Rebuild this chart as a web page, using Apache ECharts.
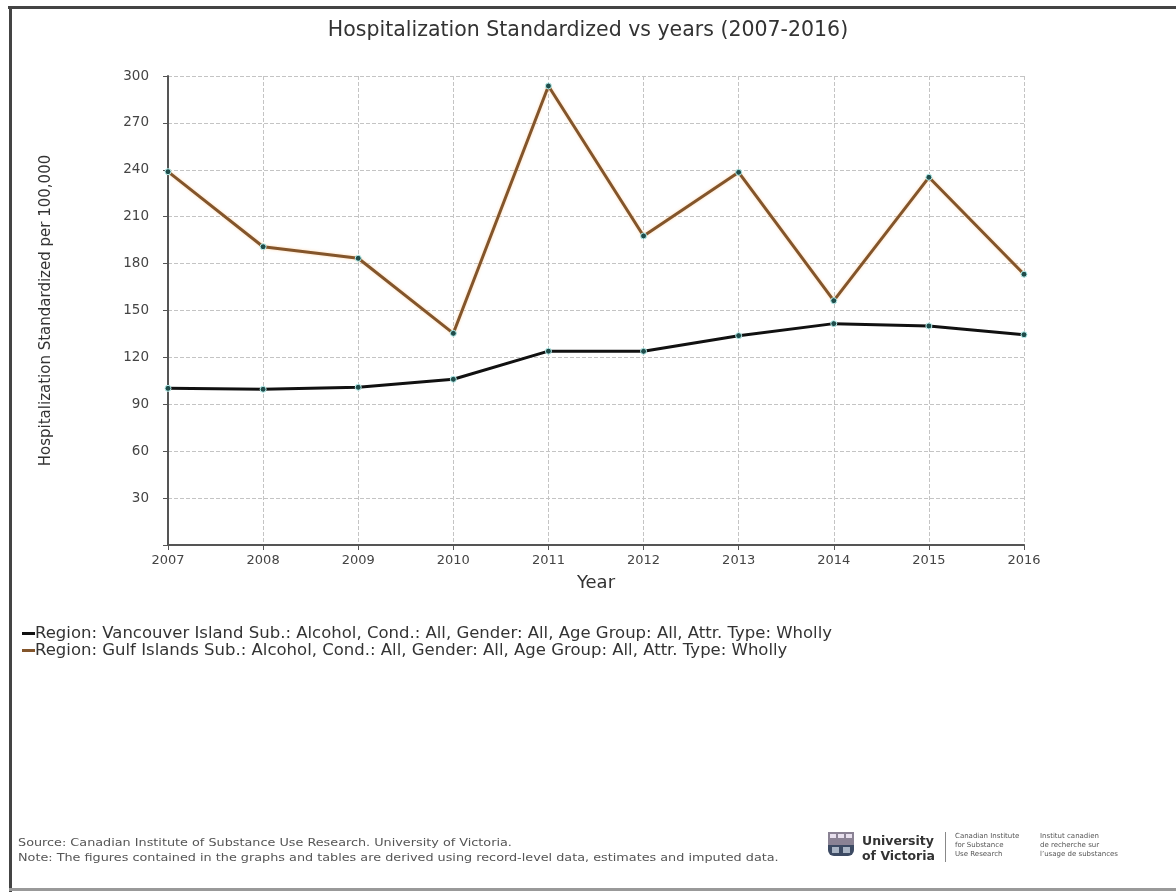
<!DOCTYPE html>
<html>
<head>
<meta charset="utf-8">
<script src="https://cdn.jsdelivr.net/npm/echarts@6/dist/echarts.min.js"></script>
<style>
html,body{margin:0;padding:0;background:#fff;}
#chart{width:1176px;height:892px;}
</style>
</head>
<body>
<div id="chart"></div>
<script>
var years = ['2007','2008','2009','2010','2011','2012','2013','2014','2015','2016'];
var vancouverIsland = [100.2, 99.6, 100.9, 106.0, 124.0, 123.9, 133.9, 141.6, 140.1, 134.5];
var gulfIslands = [238.8, 190.8, 183.4, 135.4, 293.6, 197.7, 238.4, 156.3, 235.2, 173.2];
var seriesNames = [
  'Region: Vancouver Island Sub.: Alcohol, Cond.: All, Gender: All, Age Group: All, Attr. Type: Wholly',
  'Region: Gulf Islands Sub.: Alcohol, Cond.: All, Gender: All, Age Group: All, Attr. Type: Wholly'
];
var seriesColors = ['#111111', '#83552b'];
var titleText = 'Hospitalization Standardized vs years (2007-2016)';
var yAxisName = 'Hospitalization Standardized per 100,000';
var xAxisName = 'Year';
var sourceText = 'Source: Canadian Institute of Substance Use Research. University of Victoria.';
var noteText = 'Note: The figures contained in the graphs and tables are derived using record-level data, estimates and imputed data.';

var FONT = '"DejaVu Sans", Verdana, sans-serif';
var chart = echarts.init(document.getElementById('chart'));

var markerStyle = { color: '#1f4d4b', borderColor: '#b8f0ee', borderWidth: 1 };

function smallText(x, y, txt, size, sx, extra) {
  var st = { text: txt, font: size + 'px ' + FONT, fill: '#555', verticalAlign: 'top', textVerticalAlign: 'top' };
  if (extra) { for (var k in extra) st[k] = extra[k]; }
  return { type: 'text', x: x, y: y, scaleX: sx, scaleY: 1, style: st, silent: true };
}

chart.setOption({
  animation: false,
  backgroundColor: '#fff',
  title: {
    text: titleText,
    left: 'center',
    top: 15,
    textStyle: { fontFamily: FONT, fontSize: 20.5, fontWeight: 'normal', color: '#333' }
  },
  legend: {
    orient: 'vertical',
    left: 17,
    top: 620,
    icon: 'rect',
    itemWidth: 13,
    itemHeight: 3,
    itemGap: 0,
    textStyle: { fontFamily: FONT, fontSize: 16.5, color: '#333', padding: [0,0,0,-5] },
    data: [
      { name: seriesNames[0], itemStyle: { color: seriesColors[0], borderWidth: 0 } },
      { name: seriesNames[1], itemStyle: { color: seriesColors[1], borderWidth: 0 } }
    ]
  },
  grid: { left: 168, right: 152, top: 76, bottom: 347, containLabel: false },
  xAxis: {
    type: 'category',
    data: years,
    boundaryGap: false,
    name: xAxisName,
    nameLocation: 'middle',
    nameGap: 29,
    nameTextStyle: { fontFamily: FONT, fontSize: 18, color: '#333' },
    axisLine: { lineStyle: { color: '#555', width: 2 } },
    axisTick: { show: true, length: 5, lineStyle: { color: '#555' } },
    axisLabel: { fontFamily: FONT, fontSize: 13, color: '#444', margin: 9 },
    splitLine: { show: true, lineStyle: { color: '#c4c4c4', type: 'dashed', width: 1 } }
  },
  yAxis: {
    type: 'value',
    min: 0,
    max: 300,
    interval: 30,
    name: yAxisName,
    nameLocation: 'middle',
    nameGap: 114,
    nameTextStyle: { fontFamily: FONT, fontSize: 15, color: '#333' },
    axisLine: { show: true, lineStyle: { color: '#555', width: 2 } },
    axisTick: { show: true, length: 5, lineStyle: { color: '#555' } },
    axisLabel: {
      fontFamily: FONT, fontSize: 13.5, color: '#444', margin: 19,
      formatter: function (v) { return v === 0 ? '' : String(v); }
    },
    splitLine: { show: true, lineStyle: { color: '#c4c4c4', type: 'dashed', width: 1 } }
  },
  series: [
    {
      name: seriesNames[0],
      type: 'line',
      data: vancouverIsland,
      symbol: 'circle',
      symbolSize: 6,
      color: seriesColors[0],
      lineStyle: { color: seriesColors[0], width: 3 },
      itemStyle: markerStyle,
      z: 3
    },
    {
      name: seriesNames[1],
      type: 'line',
      data: gulfIslands,
      symbol: 'circle',
      symbolSize: 6,
      color: seriesColors[1],
      lineStyle: { color: seriesColors[1], width: 3, shadowColor: 'rgba(255,190,120,0.6)', shadowBlur: 3 },
      itemStyle: markerStyle,
      z: 4
    }
  ],
  graphic: [
    { type: 'rect', shape: { x: 8, y: 6, width: 1168, height: 3 }, style: { fill: '#444' }, silent: true },
    { type: 'rect', shape: { x: 9, y: 6, width: 3, height: 886 }, style: { fill: '#444' }, silent: true },
    { type: 'rect', shape: { x: 9, y: 888, width: 1167, height: 3 }, style: { fill: '#999' }, silent: true },
    smallText(18, 838, sourceText, 10, 1.28),
    smallText(18, 853, noteText, 10, 1.28),
    // shield logo
    { type: 'rect', shape: { x: 828, y: 832, width: 26, height: 13 }, style: { fill: '#8a8294' } },
    { type: 'rect', shape: { x: 830, y: 834, width: 6, height: 4 }, style: { fill: '#e8e0ee' } },
    { type: 'rect', shape: { x: 838, y: 834, width: 6, height: 4 }, style: { fill: '#e8e0ee' } },
    { type: 'rect', shape: { x: 846, y: 834, width: 6, height: 4 }, style: { fill: '#e8e0ee' } },
    { type: 'rect', shape: { x: 828, y: 845, width: 26, height: 11, r: [0,0,6,6] }, style: { fill: '#3c4a63' } },
    { type: 'rect', shape: { x: 832, y: 847, width: 7, height: 6 }, style: { fill: '#a9b4c4' } },
    { type: 'rect', shape: { x: 843, y: 847, width: 7, height: 6 }, style: { fill: '#a9b4c4' } },
    { type: 'text', left: 862, top: 835, style: { text: 'University', font: 'bold 12.5px ' + FONT, fill: '#333' } },
    { type: 'text', left: 862, top: 850, style: { text: 'of Victoria', font: 'bold 12.5px ' + FONT, fill: '#333' } },
    { type: 'rect', shape: { x: 945, y: 832, width: 1, height: 30 }, style: { fill: '#888' } },
    smallText(955, 832, 'Canadian Institute\nfor Substance\nUse Research', 7, 1, { lineHeight: 9 }),
    smallText(1040, 832, 'Institut canadien\nde recherche sur\nl\u2019usage de substances', 7, 1, { lineHeight: 9 })
  ]
});
</script>
</body>
</html>
